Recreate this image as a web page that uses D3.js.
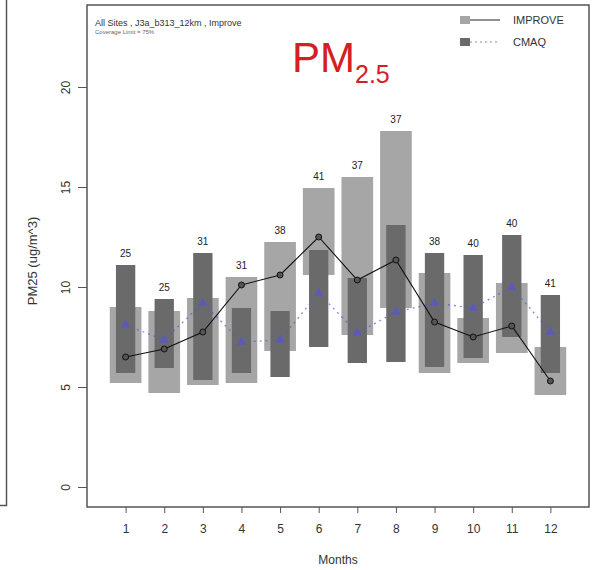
<!DOCTYPE html>
<html lang='en'>
<head>
	<meta charset='UTF-8'>
	<title>PM2.5 monthly</title>
	<style>
		body { margin: 0; background: #fff; }
		text { font-family: 'Liberation Sans', Arial, sans-serif; }
	</style>
</head>
<body>

<svg></svg>

<script src='https://d3js.org/d3.v7.min.js'></script>
<script>
// monthly box ranges (IMPROVE light, CMAQ dark), means and site counts
const months = [1, 2, 3, 4, 5, 6, 7, 8, 9, 10, 11, 12]
const counts = [25, 25, 31, 31, 38, 41, 37, 37, 38, 40, 40, 41]
const improveHigh = [9.0, 8.8, 9.45, 10.5, 12.25, 14.95, 15.5, 17.8, 10.7, 8.45, 10.2, 7.0]
const improveLow = [5.2, 4.7, 5.1, 5.2, 6.8, 10.6, 7.6, 8.95, 5.7, 6.2, 6.7, 4.6]
const cmaqHigh = [11.1, 9.4, 11.7, 8.95, 8.8, 11.85, 10.45, 13.1, 11.7, 11.6, 12.6, 9.6]
const cmaqLow = [5.7, 5.95, 5.35, 5.7, 5.5, 7.0, 6.2, 6.25, 6.0, 6.45, 7.5, 5.7]
const improveMean = [6.5, 6.9, 7.75, 10.1, 10.6, 12.5, 10.35, 11.35, 8.25, 7.5, 8.05, 5.3]
const cmaqMean = [8.1, 7.35, 9.2, 7.25, 7.35, 9.7, 7.7, 8.75, 9.2, 8.95, 10.0, 7.75]
const yTicks = [0, 5, 10, 15, 20]

const width = 596
const height = 570
const plotLeft = 87, plotRight = 589, plotTop = 5, plotBottom = 507

const svg = d3.select('svg')
	.attr('width', width)
	.attr('height', height)

const x = d3.scaleLinear().domain([0, 13]).range([plotLeft, plotRight])
const y = d3.scaleLinear().domain([-1, 24.1]).range([plotBottom, plotTop])

const frameColor = '#555'
const lightGray = '#a6a6a6'
const darkGray = '#6a6a6a'
const blue = '#5a55d2'

// bit of the neighbouring panel at the left edge
svg.append('path')
	.attr('d', `M6.5,0V${plotBottom - 1.5}H0`)
	.attr('fill', 'none')
	.attr('stroke', frameColor)
	.attr('stroke-width', 1.5)

const rows = months.map((m, i) => ({
	m,
	n: counts[i],
	iHi: improveHigh[i], iLo: improveLow[i],
	cHi: cmaqHigh[i], cLo: cmaqLow[i],
	iMean: improveMean[i], cMean: cmaqMean[i]
}))

const unit = x(1) - x(0)

// IMPROVE boxes, wide and light
svg.append('g').selectAll('rect')
	.data(rows)
	.join('rect')
	.attr('x', d => x(d.m) - unit * 0.41)
	.attr('width', unit * 0.82)
	.attr('y', d => y(d.iHi))
	.attr('height', d => y(d.iLo) - y(d.iHi))
	.attr('fill', lightGray)

// CMAQ boxes, narrow and dark
svg.append('g').selectAll('rect')
	.data(rows)
	.join('rect')
	.attr('x', d => x(d.m) - unit * 0.25)
	.attr('width', unit * 0.5)
	.attr('y', d => y(d.cHi))
	.attr('height', d => y(d.cLo) - y(d.cHi))
	.attr('fill', darkGray)

// site counts above each month
svg.append('g').selectAll('text')
	.data(rows)
	.join('text')
	.attr('x', d => x(d.m))
	.attr('y', d => y(Math.max(d.iHi, d.cHi)) - 8)
	.attr('text-anchor', 'middle')
	.attr('font-size', 10)
	.attr('fill', '#222')
	.text(d => d.n)

// CMAQ mean, dotted blue with triangles
svg.append('path')
	.datum(rows)
	.attr('fill', 'none')
	.attr('stroke', blue)
	.attr('stroke-opacity', 0.7)
	.attr('stroke-width', 1.3)
	.attr('stroke-dasharray', '2,4')
	.attr('d', d3.line().x(d => x(d.m)).y(d => y(d.cMean)))

svg.append('g').selectAll('path')
	.data(rows)
	.join('path')
	.attr('transform', d => `translate(${x(d.m)},${y(d.cMean)})`)
	.attr('d', d3.symbol(d3.symbolTriangle, 40))
	.attr('fill', blue)
	.attr('fill-opacity', 0.75)

// IMPROVE mean, solid black with circles
svg.append('path')
	.datum(rows)
	.attr('fill', 'none')
	.attr('stroke', '#111')
	.attr('stroke-width', 1.1)
	.attr('d', d3.line().x(d => x(d.m)).y(d => y(d.iMean)))

svg.append('g').selectAll('circle')
	.data(rows)
	.join('circle')
	.attr('cx', d => x(d.m))
	.attr('cy', d => y(d.iMean))
	.attr('r', 3)
	.attr('fill', '#555')
	.attr('stroke', '#111')
	.attr('stroke-width', 1)

// plot frame
svg.append('rect')
	.attr('x', plotLeft).attr('y', plotTop)
	.attr('width', plotRight - plotLeft).attr('height', plotBottom - plotTop)
	.attr('fill', 'none')
	.attr('stroke', frameColor)
	.attr('stroke-width', 1.5)

// y axis
const yAxis = svg.append('g')
	.attr('transform', `translate(${plotLeft},0)`)
	.call(d3.axisLeft(y).tickValues(yTicks).tickSize(9).tickFormat(d3.format('d')))
yAxis.select('.domain').remove()
yAxis.selectAll('line').attr('stroke', frameColor)
yAxis.selectAll('text')
	.attr('font-size', 12)
	.attr('fill', '#333')
	.attr('text-anchor', 'middle')
	.attr('dy', 0)
	.attr('x', 0)
	.attr('transform', 'translate(-17,0) rotate(-90)')
	.attr('font-family', "'Liberation Sans', Arial, sans-serif")

// x axis
const xAxis = svg.append('g')
	.attr('transform', `translate(0,${plotBottom})`)
	.call(d3.axisBottom(x).tickValues(months).tickSize(6).tickPadding(11).tickFormat(d3.format('d')))
xAxis.select('.domain').remove()
xAxis.selectAll('line').attr('stroke', frameColor)
xAxis.selectAll('text')
	.attr('font-size', 12)
	.attr('fill', '#333')
	.attr('font-family', "'Liberation Sans', Arial, sans-serif")

svg.append('text')
	.attr('x', (plotLeft + plotRight) / 2)
	.attr('y', 564)
	.attr('text-anchor', 'middle')
	.attr('font-size', 12)
	.attr('fill', '#333')
	.text('Months')

svg.append('text')
	.attr('transform', `translate(37,${y(11.3)}) rotate(-90)`)
	.attr('text-anchor', 'middle')
	.attr('font-size', 13)
	.attr('fill', '#333')
	.text('PM25 (ug/m^3)')

// header text
svg.append('text')
	.attr('x', 95).attr('y', 26)
	.attr('font-size', 9)
	.attr('fill', '#333')
	.text('All Sites , J3a_b313_12km , Improve')
svg.append('text')
	.attr('x', 95).attr('y', 34)
	.attr('font-size', 6)
	.attr('fill', '#666')
	.text('Coverage Limit = 75%')

const pm = svg.append('text')
	.attr('x', 292).attr('y', 72)
	.attr('fill', '#d42020')
	.attr('font-size', 42)
pm.append('tspan').text('PM')
pm.append('tspan').attr('font-size', 25).attr('dy', 11).text('2.5')

// legend
const legend = svg.append('g')
const items = [
	{ label: 'IMPROVE', fill: lightGray, stroke: '#222', dash: null, yy: 20 },
	{ label: 'CMAQ', fill: darkGray, stroke: '#8888bb', dash: '2,3', yy: 42 }
]
items.forEach(it => {
	legend.append('rect')
		.attr('x', 460).attr('y', it.yy - 4)
		.attr('width', 10).attr('height', 8)
		.attr('fill', it.fill)
	legend.append('line')
		.attr('x1', 470).attr('x2', 500)
		.attr('y1', it.yy).attr('y2', it.yy)
		.attr('stroke', it.stroke)
		.attr('stroke-width', 1)
		.attr('stroke-dasharray', it.dash)
	legend.append('text')
		.attr('x', 513).attr('y', it.yy + 4)
		.attr('font-size', 11)
		.attr('fill', '#333')
		.text(it.label)
})
</script>
</body>
</html>
